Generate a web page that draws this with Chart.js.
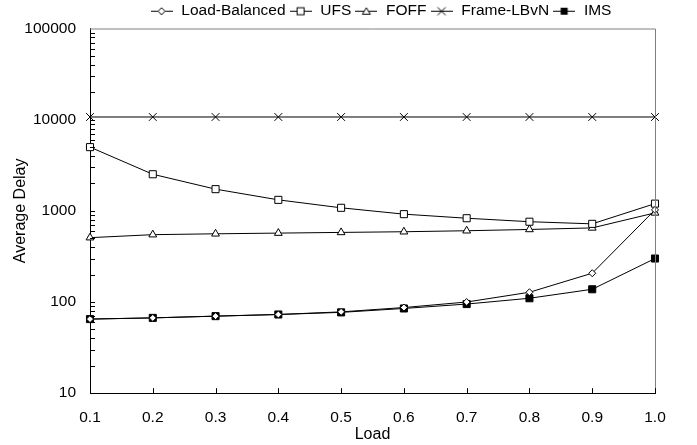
<!DOCTYPE html>
<html>
<head>
<meta charset="utf-8">
<script src="https://cdn.jsdelivr.net/npm/chart.js@4.4.1/dist/chart.umd.min.js"></script>
<style>
  html, body { margin: 0; padding: 0; background: #fff; }
</style>
</head>
<body>
<canvas id="chart" width="697" height="445"></canvas>
<script>
'use strict';

// data
let loadLabels = ['0.1', '0.2', '0.3', '0.4', '0.5', '0.6', '0.7', '0.8', '0.9', '1.0'];
let loadBalanced = [65, 67, 70, 73, 78, 87, 100, 128, 207, 1025];
let ufs = [5000, 2520, 1730, 1320, 1080, 920, 830, 760, 720, 1200];
let foff = [508, 548, 560, 570, 580, 590, 605, 625, 650, 950];
let frameLBvN = [10700, 10700, 10700, 10700, 10700, 10700, 10700, 10700, 10700, 10700];
let ims = [65, 67, 70, 73, 77, 85, 95, 110, 138, 300];
let yTickValues = [10, 100, 1000, 10000, 100000];

let canvasElem = document.getElementById('chart');
let fontFamily = "'Liberation Sans', Arial, sans-serif";

// small picture for the legend: a line with the marker in the middle
function legendIcon(drawMarker) {
  let c = document.createElement('canvas');
  c.width = 22;
  c.height = 12;
  let g = c.getContext('2d');
  g.strokeStyle = '#000';
  g.lineWidth = 1;
  g.beginPath();
  g.moveTo(0, 6.5);
  g.lineTo(22, 6.5);
  g.stroke();
  g.fillStyle = '#fff';
  drawMarker(g, 11, 6.5);
  return c;
}

let icons = [
  legendIcon(function (g, x, y) { // diamond
    g.beginPath(); g.moveTo(x, y - 3.5); g.lineTo(x + 3.5, y); g.lineTo(x, y + 3.5); g.lineTo(x - 3.5, y); g.closePath();
    g.fill(); g.stroke();
  }),
  legendIcon(function (g, x, y) { // square
    g.fillRect(x - 3.5, y - 3.5, 7, 7); g.strokeRect(x - 3.5, y - 3.5, 7, 7);
  }),
  legendIcon(function (g, x, y) { // triangle
    g.beginPath(); g.moveTo(x, y - 3.5); g.lineTo(x + 4, y + 3); g.lineTo(x - 4, y + 3); g.closePath();
    g.fill(); g.stroke();
  }),
  legendIcon(function (g, x, y) { // cross
    g.beginPath(); g.moveTo(x - 4, y - 4); g.lineTo(x + 4, y + 4); g.moveTo(x + 4, y - 4); g.lineTo(x - 4, y + 4); g.stroke();
  }),
  legendIcon(function (g, x, y) { // filled square
    g.fillStyle = '#000'; g.fillRect(x - 3.5, y - 3.5, 7, 7);
  })
];

// gray frame on top/right and inward tick marks
let frameTicksPlugin = {
  id: 'frameTicks',
  afterDraw(chart) {
    let ctx = chart.ctx;
    let area = chart.chartArea;
    let xs = chart.scales.x;
    let ys = chart.scales.y;
    ctx.save();
    ctx.lineWidth = 1;
    ctx.strokeStyle = '#808080';
    ctx.beginPath();
    ctx.moveTo(area.left, area.top + 0.5);
    ctx.lineTo(area.right + 0.5, area.top + 0.5);
    ctx.lineTo(area.right + 0.5, area.bottom);
    ctx.stroke();

    ctx.strokeStyle = '#000';
    ctx.beginPath();
    for (let i = 0; i < yTickValues.length - 1; i++) {
      for (let k = 1; k <= 9; k++) {
        let py = Math.round(ys.getPixelForValue(k * yTickValues[i])) + 0.5;
        ctx.moveTo(area.left, py);
        ctx.lineTo(area.left + 5, py);
      }
    }
    for (let i = 0; i < loadLabels.length; i++) {
      let px = Math.round(xs.getPixelForValue(i)) + 0.5;
      ctx.moveTo(px, area.bottom);
      ctx.lineTo(px, area.bottom - 5);
    }
    ctx.stroke();
    ctx.restore();
  }
};

// move the legend to the right, over the plot
let legendShiftPlugin = {
  id: 'legendShift',
  afterLayout(chart) {
    chart.legend.left += 53;
    chart.legend.right += 53;
  }
};

function makeSet(label, data, style, radius, fill) {
  return {
    label: label,
    data: data,
    borderColor: '#000',
    borderWidth: 1,
    pointStyle: style,
    pointRadius: radius,
    pointHoverRadius: radius,
    pointBorderWidth: 1,
    pointBorderColor: '#000',
    pointBackgroundColor: fill,
    tension: 0
  };
}

let chartDatasets = [
  makeSet('Load-Balanced', loadBalanced, 'rectRot', 3.5, '#fff'),
  makeSet('UFS', ufs, 'rect', 5, '#fff'),
  makeSet('FOFF', foff, 'triangle', 4.5, '#fff'),
  makeSet('Frame-LBvN', frameLBvN, 'crossRot', 5.5, '#fff'),
  makeSet('IMS', ims, 'rect', 5, '#000')
];

let chartOptions = {
  responsive: false,
  animation: false,
  layout: { padding: { left: 0, right: 42, top: 0, bottom: 1 } },
  plugins: {
    legend: {
      position: 'top',
      labels: {
        color: '#000',
        font: { family: fontFamily, size: 15.5 },
        usePointStyle: true,
        pointStyleWidth: 24,
        boxHeight: 12,
        padding: 3,
        generateLabels(chart) {
          return chart.data.datasets.map(function (ds, i) {
            return {
              text: ds.label,
              pointStyle: icons[i],
              fillStyle: '#fff',
              strokeStyle: '#000',
              lineWidth: 0,
              hidden: false,
              datasetIndex: i,
              fontColor: '#000'
            };
          });
        }
      }
    },
    tooltip: { enabled: false }
  },
  scales: {
    x: {
      type: 'category',
      offset: false,
      grid: { drawOnChartArea: false, drawTicks: false },
      border: { display: true, color: '#000', width: 1 },
      ticks: {
        color: '#000',
        font: { family: fontFamily, size: 15.5 },
        padding: 15,
        maxRotation: 0,
        autoSkip: false
      },
      title: {
        display: true,
        text: 'Load',
        color: '#000',
        font: { family: fontFamily, size: 16 },
        padding: { top: -17, bottom: 0 }
      }
    },
    y: {
      type: 'logarithmic',
      min: 10,
      max: 100000,
      grid: { drawOnChartArea: false, drawTicks: false },
      border: { display: true, color: '#000', width: 1 },
      afterBuildTicks(scale) {
        scale.ticks = yTickValues.map(function (v) { return { value: v, major: true }; });
      },
      afterFit(scale) {
        scale.width = 90;
      },
      ticks: {
        color: '#000',
        font: { family: fontFamily, size: 15.5 },
        padding: 14,
        autoSkip: false,
        callback(value) { return String(value); }
      },
      title: {
        display: true,
        text: 'Average Delay',
        color: '#000',
        font: { family: fontFamily, size: 16 },
        padding: { top: 11, bottom: 0 }
      }
    }
  }
};

let chartConfig = {
  type: 'line',
  data: { labels: loadLabels, datasets: chartDatasets },
  options: chartOptions,
  plugins: [frameTicksPlugin, legendShiftPlugin]
};

new Chart(canvasElem, chartConfig);
</script>
</body>
</html>
